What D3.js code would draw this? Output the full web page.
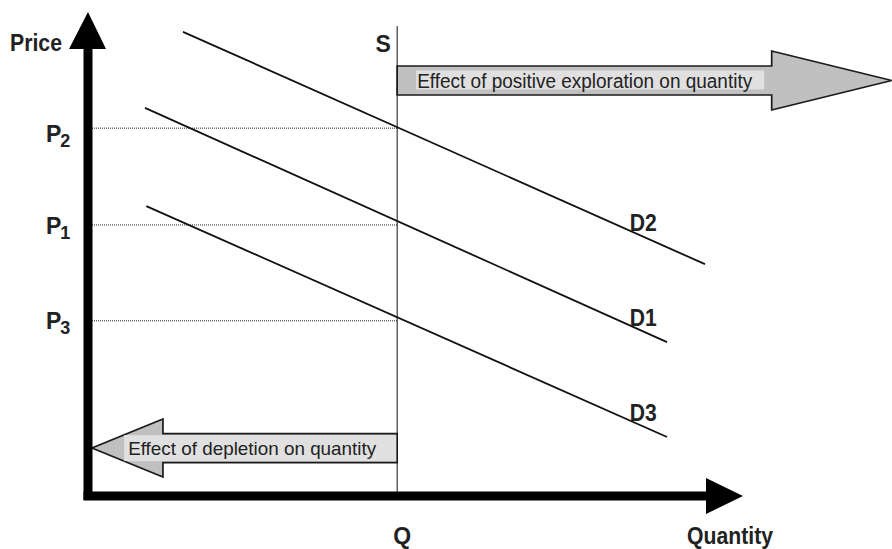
<!DOCTYPE html>
<html>
<head>
<meta charset="utf-8">
<script src="https://cdn.jsdelivr.net/npm/d3@7/dist/d3.min.js"></script>
<style>
  html, body { margin: 0; padding: 0; background: #fff; }
  svg { display: block; }
  text { font-family: "Liberation Sans", Arial, Helvetica, sans-serif; fill: #222; }
</style>
</head>
<body>
<svg id="chart" width="892" height="549"></svg>
<script>
// ---- Data (schematic units: quantity 0..100, price 0..100) ----
const curveNames  = ["D2", "D1", "D3"];
const curveStartQ = [14.5, 8.7, 8.9];
const curveStartP = [95.9, 80.2, 59.9];
const curveEndQ   = [94.2, 88.4, 88.4];
const curveEndP   = [47.9, 31.8, 12.2];
const curveLabelQ = [82.7, 82.7, 82.7];

const priceNames  = ["P", "P", "P"];
const priceSubs   = ["2", "1", "3"];
const priceValues = [76.0, 56.0, 36.2];

const supplyName  = "S";
const supplyQ     = 47.2;
const supplyTopP  = 97.1;

const axisLabels  = ["Price", "Quantity"];
const qLabel      = "Q";

const arrowLabels = ["Effect of positive exploration on quantity", "Effect of depletion on quantity"];
const arrowFromQ  = [47.2, 47.2];
const arrowToQ    = [122.7, 0.6];
const arrowLevelP = [85.85, 9.9];

// ---- Scales ----
const x = d3.scaleLinear().domain([0, 100]).range([88, 743]);
const y = d3.scaleLinear().domain([0, 100]).range([496, 12]);

const svg = d3.select("#chart");
const LABEL_FS = 23;

// ---- Dotted price guides ----
svg.selectAll("line.guide").data(priceValues).join("line")
  .attr("class", "guide")
  .attr("x1", x(0) + 4).attr("x2", x(supplyQ))
  .attr("y1", d => y(d)).attr("y2", d => y(d))
  .attr("stroke", "#222").attr("stroke-width", 1)
  .attr("stroke-dasharray", "1,1");

// ---- Supply line ----
svg.append("line")
  .attr("x1", x(supplyQ)).attr("x2", x(supplyQ))
  .attr("y1", y(supplyTopP)).attr("y2", y(0))
  .attr("stroke", "#111").attr("stroke-width", 1);

// ---- Demand curves ----
const curves = curveNames.map((n, i) => ({
  name: n, q0: curveStartQ[i], p0: curveStartP[i], q1: curveEndQ[i], p1: curveEndP[i], lq: curveLabelQ[i]
}));
svg.selectAll("line.demand").data(curves).join("line")
  .attr("class", "demand")
  .attr("x1", d => x(d.q0)).attr("y1", d => y(d.p0))
  .attr("x2", d => x(d.q1)).attr("y2", d => y(d.p1))
  .attr("stroke", "#111").attr("stroke-width", 1.8);

// ---- Demand labels ----
svg.selectAll("text.dlabel").data(curves).join("text")
  .attr("class", "dlabel")
  .attr("x", d => x(d.lq))
  .attr("y", d => {
    const p = d.p0 + (d.p1 - d.p0) * (d.lq - d.q0) / (d.q1 - d.q0);
    return y(p) + 0.5;
  })
  .attr("font-size", LABEL_FS).attr("font-weight", "bold")
  .attr("textLength", 27).attr("lengthAdjust", "spacingAndGlyphs")
  .text(d => d.name);

// ---- Arrows ----
function arrowPath(fromQ, toQ, levelP, bodyHalf, headHalf, headLen) {
  const x0 = x(fromQ), x1 = x(toQ), cy = y(levelP);
  const dir = x1 > x0 ? 1 : -1;
  const xb = x1 - dir * headLen;
  return d3.line()([
    [x0, cy - bodyHalf], [xb, cy - bodyHalf], [xb, cy - headHalf], [x1, cy],
    [xb, cy + headHalf], [xb, cy + bodyHalf], [x0, cy + bodyHalf]
  ]) + "Z";
}
const arrowStyle = [
  { bodyHalf: 14.5, headHalf: 29.5, headLen: 120, boxL: 19, boxR: 367, boxT: -10, boxH: 19, textX: 20, textLen: 335, fs: 19.5, dy: 7.5 },
  { bodyHalf: 14.5, headHalf: 29, headLen: 71, boxL: -273, boxR: -1, boxT: -13, boxH: 26, textX: -269, textLen: 248, fs: 19, dy: 7 }
];
arrowLabels.forEach((label, i) => {
  const s = arrowStyle[i];
  const g = svg.append("g");
  g.append("path")
    .attr("d", arrowPath(arrowFromQ[i], arrowToQ[i], arrowLevelP[i], s.bodyHalf, s.headHalf, s.headLen))
    .attr("fill", "#c0c0c0").attr("stroke", "#1a1a1a").attr("stroke-width", 1.7)
    .attr("stroke-linejoin", "miter");
  const x0 = x(arrowFromQ[i]), cy = y(arrowLevelP[i]);
  g.append("rect")
    .attr("x", x0 + s.boxL).attr("y", cy + s.boxT)
    .attr("width", s.boxR - s.boxL).attr("height", s.boxH)
    .attr("fill", "#e0e0e0");
  g.append("text")
    .attr("x", x0 + s.textX).attr("y", cy + s.dy)
    .attr("font-size", s.fs)
    .attr("textLength", s.textLen).attr("lengthAdjust", "spacingAndGlyphs")
    .text(label);
});

// ---- Axes (thick arrows) ----
const axisW = 9;
svg.append("path")
  .attr("d", d3.line()([
    [x(0) - axisW / 2, y(0) + 4], [x(0) - axisW / 2, 49], [69, 49], [x(0), y(100)],
    [106, 49], [x(0) + axisW / 2, 49], [x(0) + axisW / 2, y(0) + 4]
  ]) + "Z")
  .attr("fill", "#000");
svg.append("path")
  .attr("d", d3.line()([
    [x(0) - axisW / 2, y(0) - axisW / 2], [706, y(0) - axisW / 2], [706, 478], [x(100), y(0)],
    [706, 514], [706, y(0) + axisW / 2], [x(0) - axisW / 2, y(0) + axisW / 2]
  ]) + "Z")
  .attr("fill", "#000");

// ---- Axis labels ----
svg.append("text").attr("x", 10).attr("y", 51)
  .attr("font-size", LABEL_FS).attr("font-weight", "bold")
  .attr("textLength", 52).attr("lengthAdjust", "spacingAndGlyphs")
  .text(axisLabels[0]);
svg.append("text").attr("x", 687).attr("y", 544)
  .attr("font-size", LABEL_FS).attr("font-weight", "bold")
  .attr("textLength", 86).attr("lengthAdjust", "spacingAndGlyphs")
  .text(axisLabels[1]);
svg.append("text").attr("x", x(supplyQ) + 5).attr("y", 544).attr("text-anchor", "middle")
  .attr("font-size", LABEL_FS).attr("font-weight", "bold").text(qLabel);
svg.append("text").attr("x", x(supplyQ) - 14).attr("y", 52).attr("text-anchor", "middle")
  .attr("font-size", LABEL_FS).attr("font-weight", "bold").text(supplyName);

// ---- Price labels with subscripts ----
const pOffsets = [14, 9, 8];
priceValues.forEach((v, i) => {
  const t = svg.append("text")
    .attr("x", 46).attr("y", y(v) + pOffsets[i])
    .attr("font-size", LABEL_FS).attr("font-weight", "bold");
  t.append("tspan").text(priceNames[i]);
  t.append("tspan").attr("font-size", 18).attr("dy", 5).attr("dx", -1).text(priceSubs[i]);
});
</script>
</body>
</html>
